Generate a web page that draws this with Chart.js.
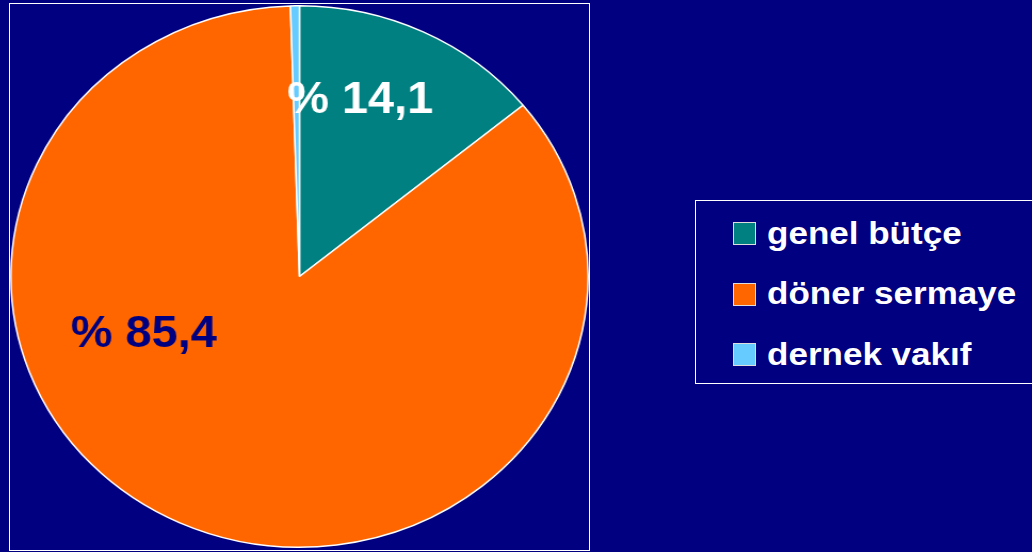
<!DOCTYPE html>
<html>
<head>
<meta charset="utf-8">
<script src="https://cdn.jsdelivr.net/npm/chart.js@4"></script>
<style>
    html, body {
        margin: 0;
        padding: 0;
        width: 1032px;
        height: 552px;
        overflow: hidden;
        background: #000080;
        font-family: "Liberation Sans", Arial, sans-serif;
    }
    #frame {
        position: absolute;
        left: 9px; top: 3px;
        width: 581px; height: 548px;
        border: 1px solid #fff;
        box-sizing: border-box;
    }
    /* the original slide pie is a slightly stretched ellipse */
    #pieWrap {
        position: absolute;
        left: 9px; top: 4px;
        width: 545px; height: 545px;
        transform: scaleX(1.066);
        transform-origin: 0 0;
    }
    #legendBox {
        position: absolute;
        left: 695px; top: 200px;
        width: 400px; height: 184px;
        border: 1px solid #fff;
        box-sizing: border-box;
    }
    .swatch {
        position: absolute;
        left: 733px;
        width: 23px; height: 23px;
        border: 1px solid #ddd;
        box-sizing: border-box;
    }
    .legendText {
        position: absolute;
        left: 767px;
        font-size: 31px;
        line-height: 31px;
        font-weight: bold;
        color: #fff;
        white-space: nowrap;
        transform: scaleX(1.13);
        transform-origin: 0 0;
    }
</style>
</head>
<body>
<div id="frame"></div>
<div id="pieWrap"><canvas id="pie" width="545" height="545"></canvas></div>
<div id="legendBox"></div>
<div id="legend"></div>

<script>
const categories = ['genel bütçe', 'döner sermaye', 'dernek vakıf'];
const shares = [14.1, 85.4, 0.5];
const sliceColors = ['#008080', '#FF6600', '#66CCFF'];
const valueLabels = ['% 14,1', '% 85,4', ''];
const valueLabelColors = ['#ffffff', '#000080', '#ffffff'];

// label spots, relative to the pie centre (canvas px, text baseline)
const labelSpots = [[57, -163.5], [-146, 70.5], [0, 0]];

// slice value labels drawn on top of the arcs
const sliceLabels = {
    id: 'sliceLabels',
    afterDatasetsDraw(chart) {
        const ctx = chart.ctx;
        const meta = chart.getDatasetMeta(0);
        ctx.save();
        ctx.font = 'bold 44px "Liberation Sans", Arial, sans-serif';
        ctx.textAlign = 'center';
        ctx.textBaseline = 'alphabetic';
        meta.data.forEach((arc, i) => {
            if (!valueLabels[i]) return;
            ctx.fillStyle = valueLabelColors[i];
            ctx.fillText(valueLabels[i], arc.x + labelSpots[i][0], arc.y + labelSpots[i][1]);
        });
        ctx.restore();
    }
};

const pieChart = new Chart(document.getElementById('pie'), {
    type: 'pie',
    data: {
        labels: categories,
        datasets: [{
            data: shares,
            backgroundColor: sliceColors,
            borderColor: '#ffffff',
            borderWidth: 1.5
        }]
    },
    options: {
        responsive: false,
        devicePixelRatio: 1,
        animation: false,
        layout: { padding: 1 },
        plugins: {
            legend: { display: false },
            tooltip: { enabled: false }
        }
    },
    plugins: [sliceLabels]
});

// legend built from the same arrays
const legend = document.getElementById('legend');
categories.forEach((name, i) => {
    const sw = document.createElement('div');
    sw.className = 'swatch';
    sw.style.top = (222 + i * 60.5) + 'px';
    sw.style.background = sliceColors[i];
    legend.appendChild(sw);

    const t = document.createElement('div');
    t.className = 'legendText';
    t.style.top = (217.5 + i * 60.5) + 'px';
    t.textContent = name;
    legend.appendChild(t);
});
</script>
</body>
</html>
